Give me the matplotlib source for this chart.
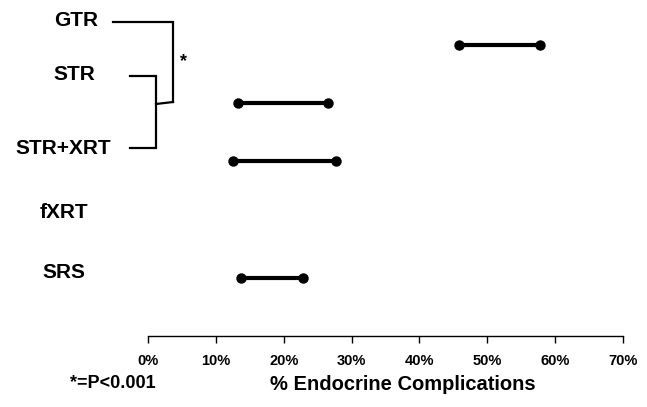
import matplotlib.pyplot as plt
from matplotlib.ticker import PercentFormatter

plt.rcParams['font.family'] = ['Liberation Sans', 'DejaVu Sans']
plt.rcParams['font.weight'] = 'bold'

# range of endocrine complication rates per treatment
groups = ['GTR', 'STR', 'STR+XRT', 'fXRT', 'SRS']
low = [45.8, 13.3, 12.5, None, 13.7]
high = [57.8, 26.5, 27.7, None, 22.8]

W, H = 647, 407
fig = plt.figure(figsize=(W / 100, H / 100), dpi=100)

ax = fig.add_axes([148 / W, (H - 336) / H, 475 / W, 326 / H])
for i, (lo, hi) in enumerate(zip(low, high)):
    if lo is None:
        continue
    ax.plot([lo, hi], [i, i], color='black', lw=3, marker='o', ms=6.5,
            solid_capstyle='round')

ax.set_xlim(0, 70)
ax.set_ylim(5, -0.6)
ax.set_xticks(range(0, 80, 10))
ax.xaxis.set_major_formatter(PercentFormatter(decimals=0))
ax.tick_params(axis='x', length=5, width=1, labelsize=10.5, pad=8)
ax.set_yticks([])
for s in ['top', 'right', 'left']:
    ax.spines[s].set_visible(False)
ax.spines['bottom'].set_linewidth(1)

# overlay in pixel coords for labels and bracket
ov = fig.add_axes([0, 0, 1, 1], facecolor='none')
ov.set_xlim(0, W)
ov.set_ylim(H, 0)
ov.axis('off')

label_x = [76, 74, 63, 64, 64]
label_y = [20, 75, 148, 212, 272]
for g, x, y in zip(groups, label_x, label_y):
    ov.text(x, y, g, ha='center', va='center', fontsize=15, fontweight='bold')

kw = dict(color='black', lw=1.6, solid_joinstyle='miter')
ov.plot([113, 173, 173], [22, 22, 102], **kw)
ov.plot([130, 156, 156, 130], [76, 76, 148, 148], **kw)
ov.plot([156, 173], [104, 102], **kw)
ov.text(184, 62, '*', ha='center', va='center', fontsize=13, fontweight='bold')

ov.text(113, 383, '*=P<0.001', ha='center', va='center', fontsize=13,
        fontweight='bold')
ov.text(403, 384, '% Endocrine Complications', ha='center', va='center',
        fontsize=14.5, fontweight='bold')

fig.savefig('out.png', dpi=100)
